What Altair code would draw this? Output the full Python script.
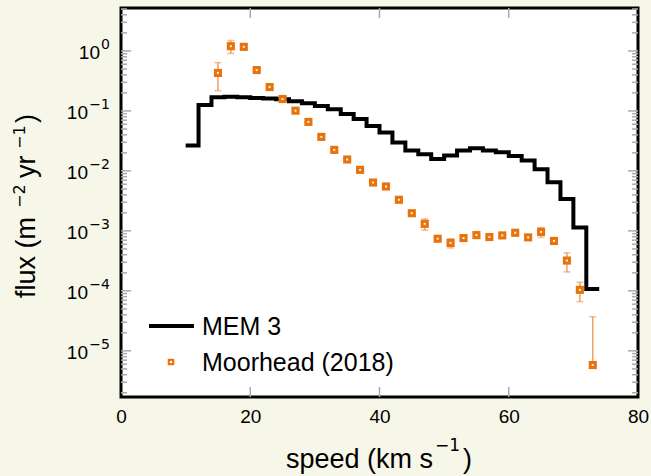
import altair as alt
import pandas as pd

# ---- data ----
mem_speed = [10, 12, 14, 16, 18, 20, 22, 24, 26, 28, 30, 32, 34, 36, 38, 40, 42,
             44, 46, 48, 50, 52, 54, 56, 58, 60, 62, 64, 66, 68, 70, 72, 74]
mem_flux = [0.0264, 0.126, 0.169, 0.173, 0.169, 0.165, 0.161, 0.156, 0.145, 0.134,
            0.121, 0.107, 0.089, 0.0736, 0.056, 0.0435, 0.0297, 0.0218, 0.019, 0.0158,
            0.018, 0.0218, 0.0239, 0.0218, 0.0205, 0.0178, 0.0149, 0.0107, 0.0065,
            0.0034, 0.00114, 1.07e-4, 1.07e-4]

moor_speed = [15, 17, 19, 21, 23, 25, 27, 29, 31, 33, 35, 37, 39, 41, 43, 45, 47, 49,
              51, 53, 55, 57, 59, 61, 63, 65, 67, 69, 71, 73]
moor_flux = [0.43, 1.2, 1.17, 0.48, 0.25, 0.158, 0.101, 0.0656, 0.0369, 0.0224, 0.0155,
             0.0104, 0.0064, 0.0055, 0.0033, 0.00197, 0.00131, 0.00074, 0.00063, 0.00076,
             0.00085, 0.00079, 0.00084, 0.00093, 0.00078, 0.00096, 0.00068, 0.00032,
             0.000104, 5.8e-6]
moor_lo = [0.218, 0.91, 1.1, 0.46, 0.24, 0.152, 0.097, 0.063, 0.0355, 0.0215, 0.0149,
           0.0100, 0.0061, 0.0052, 0.0031, 0.00185, 0.00103, 0.00068, 0.00052, 0.00072,
           0.00080, 0.00075, 0.00080, 0.00088, 0.00074, 0.00078, 0.00064, 0.000207,
           0.000066, 5.8e-6]
moor_hi = [0.64, 1.49, 1.24, 0.50, 0.26, 0.164, 0.105, 0.068, 0.0383, 0.0233, 0.0161,
           0.0108, 0.0067, 0.0058, 0.0035, 0.0021, 0.00158, 0.00080, 0.00074, 0.00080,
           0.00090, 0.00083, 0.00088, 0.00098, 0.00082, 0.00114, 0.00072, 0.00043,
           0.000139, 3.7e-5]

legend_labels = ["MEM 3", "Moorhead (2018)"]

x_ticks = [0, 20, 40, 60, 80]
x_inner_ticks = [20, 40, 60]
y_major = [1, 0.1, 0.01, 0.001, 0.0001, 0.00001]
y_exp = ["0", "−1", "−2", "−3", "−4", "−5"]
y_minor = [m * 10.0 ** e for e in range(-6, 1) for m in range(2, 10)]
y_minor = [v for v in y_minor if 1.7e-6 < v < 5.2]

x_title_parts = ["speed (km s", "−1", ")"]
y_title_parts = ["flux (m", "−2", "yr", "−1", ")"]

FONT = "Liberation Sans"
SUPFONT = "DejaVu Sans"
ORANGE = "#E8720C"
ERR = "#F2A467"
TICK = "#ABABAB"

mem = pd.DataFrame({"speed": mem_speed, "flux": mem_flux})
moor = pd.DataFrame({"speed": moor_speed, "flux": moor_flux, "lo": moor_lo, "hi": moor_hi})

xs = alt.Scale(domain=[0, 80], nice=False, zero=False)
ys = alt.Scale(type="log", domain=[1.7e-6, 5.2], nice=False)

xaxis = alt.Axis(values=x_ticks, tickSize=0, domain=False, grid=False, labelFlush=False,
                 labelFontSize=19, labelPadding=10, labelFont=FONT, labelColor="black",
                 title=None)


def X(f):
    return alt.X(f"{f}:Q", scale=xs, axis=xaxis)


def Y(f):
    return alt.Y(f"{f}:Q", scale=ys, axis=None)


W, H = 517, 389

ymaj = pd.DataFrame({"flux": y_major, "exp": y_exp})
ymin = pd.DataFrame({"flux": y_minor})
xin = pd.DataFrame({"speed": x_inner_ticks})
one = pd.DataFrame({"k": [0]})

tick_layers = [
    alt.Chart(ymaj).mark_rule(color=TICK, strokeWidth=1.5).encode(y=Y("flux"), x=alt.value(0), x2=alt.value(10)),
    alt.Chart(ymin).mark_rule(color=TICK, strokeWidth=1.5).encode(y=Y("flux"), x=alt.value(0), x2=alt.value(6)),
    alt.Chart(ymaj).mark_rule(color=TICK, strokeWidth=1.5).encode(y=Y("flux"), x=alt.value(W), x2=alt.value(W - 10)),
    alt.Chart(ymin).mark_rule(color=TICK, strokeWidth=1.5).encode(y=Y("flux"), x=alt.value(W), x2=alt.value(W - 6)),
    alt.Chart(xin).mark_rule(color=TICK, strokeWidth=1.5).encode(x=X("speed"), y=alt.value(0), y2=alt.value(10)),
    alt.Chart(xin).mark_rule(color=TICK, strokeWidth=1.5).encode(x=X("speed"), y=alt.value(H), y2=alt.value(H - 10)),
]

# y tick labels: "10" with a real raised exponent
ylab_zero = ymaj[ymaj["exp"] == "0"]
ylab_neg = ymaj[ymaj["exp"] != "0"]
ylabel_layers = [
    alt.Chart(ylab_zero).mark_text(align="right", baseline="middle", font=FONT, fontSize=19,
                                   dy=2, color="black").encode(
        y=Y("flux"), x=alt.value(-21), text=alt.value("10")),
    alt.Chart(ylab_neg).mark_text(align="right", baseline="middle", font=FONT, fontSize=19,
                                  dy=2, color="black").encode(
        y=Y("flux"), x=alt.value(-33), text=alt.value("10")),
    alt.Chart(ymaj).mark_text(align="right", baseline="middle", font=SUPFONT, fontSize=14,
                              dy=-6, color="black").encode(
        y=Y("flux"), x=alt.value(-11), text="exp:N"),
]


def txt(t, x, y, size, font=FONT, align="left", angle=0):
    return alt.Chart(one).mark_text(align=align, baseline="alphabetic", font=font,
                                    fontSize=size, angle=angle, color="black").encode(
        x=alt.value(x), y=alt.value(y), text=alt.value(t))


title_layers = [
    txt(x_title_parts[0], 312, 460, 27, align="right"),
    txt(x_title_parts[1], 314, 443, 17, font=SUPFONT),
    txt(x_title_parts[2], 342, 460, 27),
    txt(y_title_parts[0], -86, 290, 27, angle=270),
    txt(y_title_parts[1], -96, 200, 16, font=SUPFONT, angle=270),
    txt(y_title_parts[2], -86, 170, 27, angle=270),
    txt(y_title_parts[3], -96, 141, 16, font=SUPFONT, angle=270),
    txt(y_title_parts[4], -86, 115, 27, angle=270),
]

line = alt.Chart(mem).mark_line(color="black", strokeWidth=4, interpolate="step-after",
                                clip=True).encode(x=X("speed"), y=Y("flux"))

err = alt.Chart(moor).mark_rule(color=ERR, strokeWidth=1.6, clip=True).encode(
    x=X("speed"), y=Y("lo"), y2="hi")
cap_lo = alt.Chart(moor).mark_tick(color=ERR, orient="horizontal", size=7, thickness=1.6,
                                   clip=True).encode(x=X("speed"), y=Y("lo"))
cap_hi = alt.Chart(moor).mark_tick(color=ERR, orient="horizontal", size=7, thickness=1.6,
                                   clip=True).encode(x=X("speed"), y=Y("hi"))
pts = alt.Chart(moor).mark_square(color=ORANGE, size=66, opacity=1, clip=True).encode(
    x=X("speed"), y=Y("flux"))
pts_c = alt.Chart(moor).mark_square(color="white", size=4, opacity=0.9, clip=True).encode(
    x=X("speed"), y=Y("flux"))

leg = pd.DataFrame({"label": legend_labels})
leg_line = alt.Chart(leg.iloc[[0]]).mark_rule(color="black", strokeWidth=4).encode(
    x=alt.value(28), x2=alt.value(73), y=alt.value(318))
leg_sq = alt.Chart(leg.iloc[[1]]).mark_square(color=ORANGE, size=42, opacity=1).encode(
    x=alt.value(50), y=alt.value(354))
leg_sq_c = alt.Chart(leg.iloc[[1]]).mark_square(color="white", size=5, opacity=1).encode(
    x=alt.value(50), y=alt.value(354))
leg_t1 = alt.Chart(leg.iloc[[0]]).mark_text(align="left", baseline="middle", font=FONT,
                                            fontSize=25, color="black").encode(
    x=alt.value(81), y=alt.value(319), text="label:N")
leg_t2 = alt.Chart(leg.iloc[[1]]).mark_text(align="left", baseline="middle", font=FONT,
                                            fontSize=25, color="black").encode(
    x=alt.value(81), y=alt.value(355), text="label:N")

chart = alt.layer(
    *tick_layers, line, err, cap_lo, cap_hi, pts, pts_c,
    leg_line, leg_sq, leg_sq_c, leg_t1, leg_t2, *ylabel_layers, *title_layers
).properties(
    width=W, height=H,
    padding={"left": 121, "top": 8, "right": 13, "bottom": 79},
    autosize=alt.AutoSizeParams(type="none"),
    background="#F7F7E9",
).configure_view(
    stroke="black", strokeWidth=3, fill="white"
)

chart.save("out.html", embed_options={"renderer": "svg", "actions": False})
